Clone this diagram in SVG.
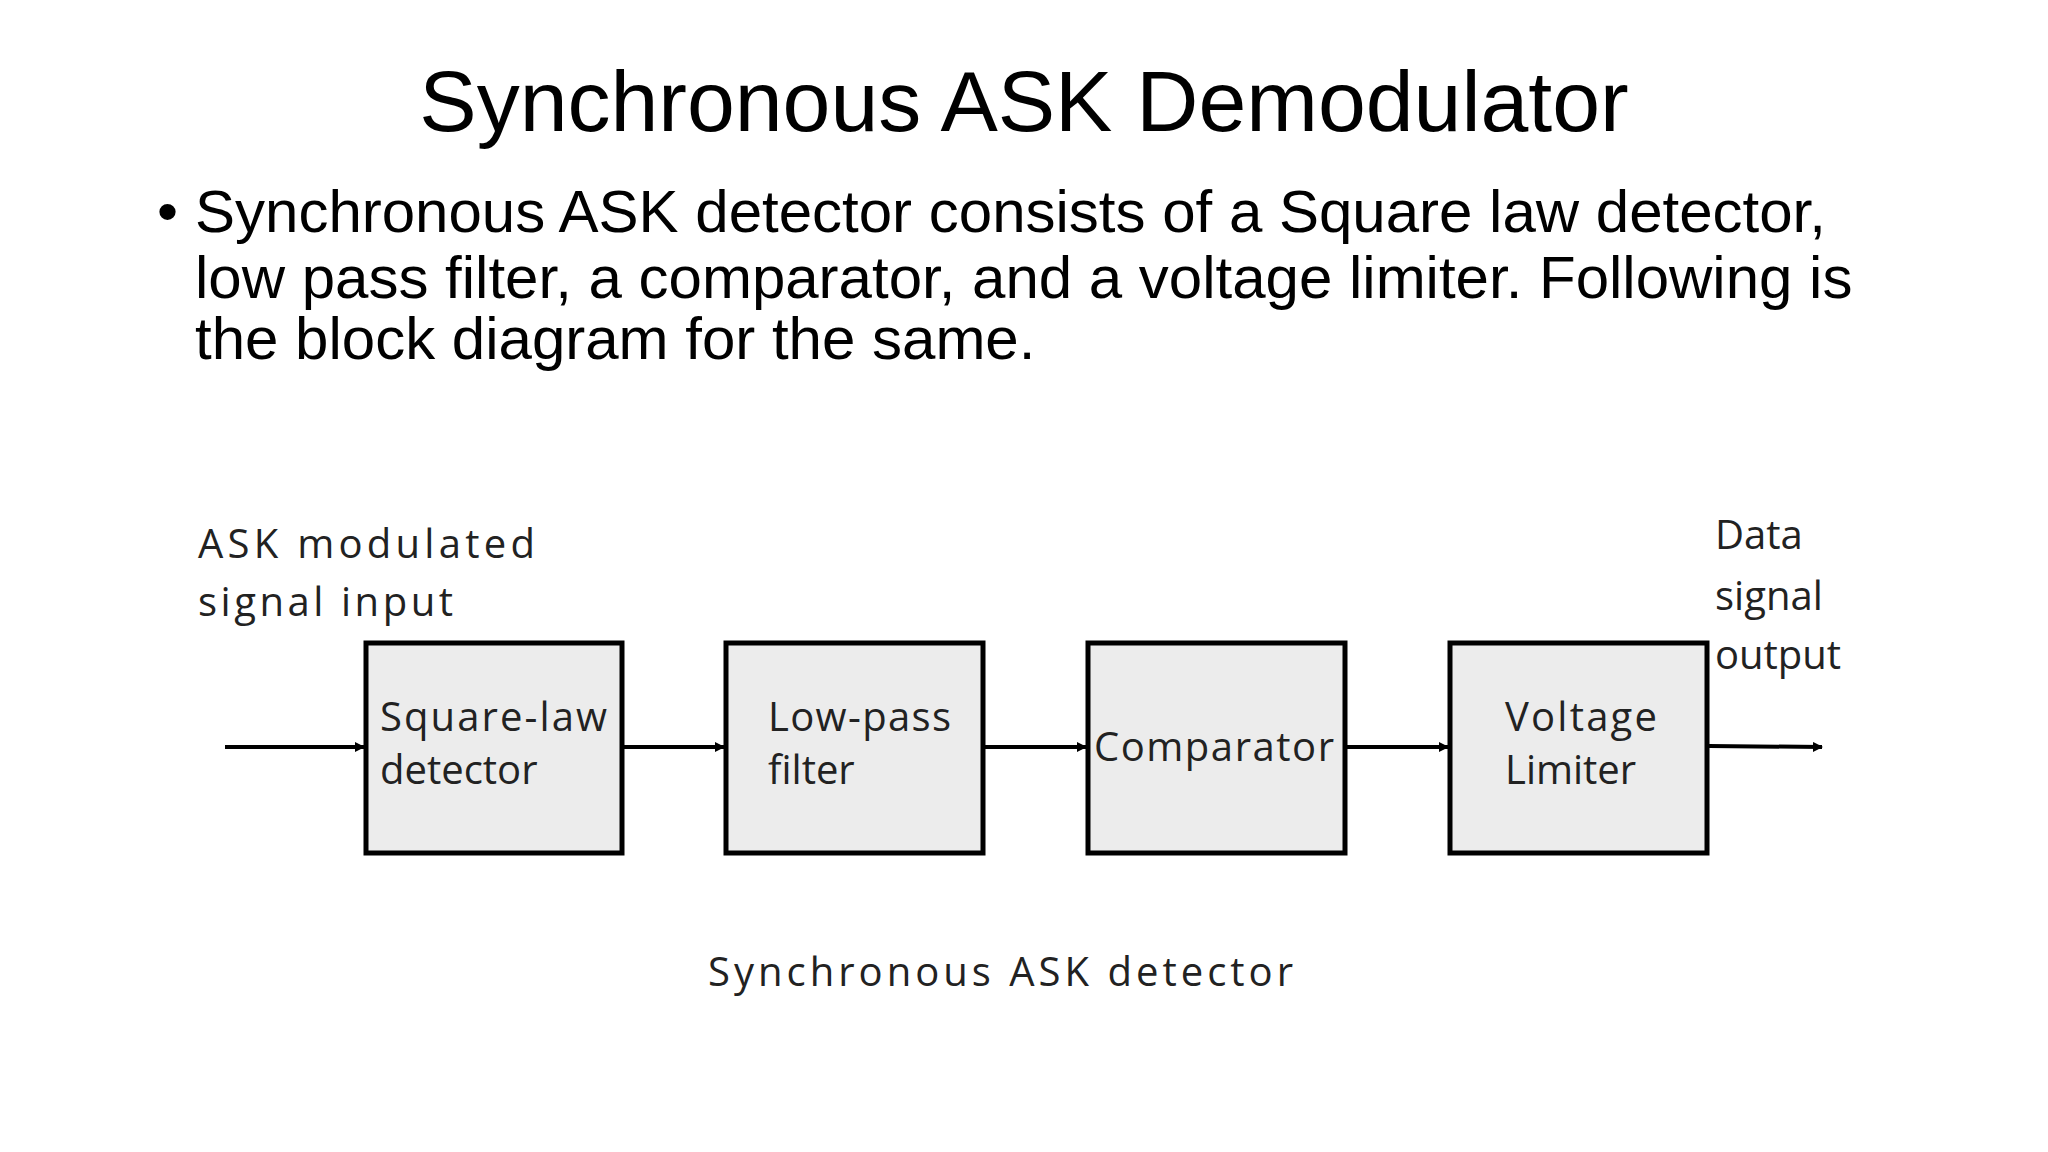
<svg xmlns="http://www.w3.org/2000/svg" width="2048" height="1152" viewBox="0 0 2048 1152">
<style>
.h{font-family:"Liberation Sans",Arial,sans-serif;fill:#000}
.d{font-family:"Open Sans","Noto Sans",sans-serif;font-size:40px;fill:#222}
.b{fill:#ececec;stroke:#000;stroke-width:5}
.c{stroke:#000;stroke-width:4;fill:none}
</style>
<defs><marker id="a" markerWidth="10" markerHeight="10" refX="9" refY="5" orient="auto" markerUnits="userSpaceOnUse" viewBox="0 0 10 10"><path d="M0,0 L10,5 L0,10 z" fill="#000"/></marker></defs>
<rect width="2048" height="1152" fill="#fff"/>
<text class="h" x="1024" y="131" font-size="86" text-anchor="middle">Synchronous ASK Demodulator</text>
<g class="h" font-size="60">
<text x="157" y="232">•</text>
<text x="195" y="232">Synchronous ASK detector consists of a Square law detector,</text>
<text x="195" y="298">low pass filter, a comparator, and a voltage limiter. Following is</text>
<text x="195" y="359">the block diagram for the same.</text>
</g>
<g id="connectors">
<line class="c" x1="225" y1="747" x2="364" y2="747" marker-end="url(#a)"/>
<line class="c" x1="624" y1="747" x2="724" y2="747" marker-end="url(#a)"/>
<line class="c" x1="985" y1="747" x2="1086" y2="747" marker-end="url(#a)"/>
<line class="c" x1="1347" y1="747" x2="1448" y2="747" marker-end="url(#a)"/>
<line class="c" x1="1709" y1="746" x2="1822" y2="747" marker-end="url(#a)"/>
</g>
<g id="in"><text class="d" x="198" y="558" textLength="337">ASK modulated</text><text class="d" x="198" y="616" textLength="255">signal input</text></g>
<g id="out"><text class="d" x="1715" y="549">Data</text><text class="d" x="1715" y="610">signal</text><text class="d" x="1715" y="669">output</text></g>
<g id="n1"><rect class="b" x="366" y="643" width="256" height="210"/><text class="d" x="380" y="731" textLength="227">Square-law</text><text class="d" x="380" y="784">detector</text></g>
<g id="n2"><rect class="b" x="726" y="643" width="257" height="210"/><text class="d" x="768" y="731" textLength="183">Low-pass</text><text class="d" x="768" y="784">filter</text></g>
<g id="n3"><rect class="b" x="1088" y="643" width="257" height="210"/><text class="d" x="1094" y="761" textLength="240">Comparator</text></g>
<g id="n4"><rect class="b" x="1450" y="643" width="257" height="210"/><text class="d" x="1505" y="731" textLength="152">Voltage</text><text class="d" x="1505" y="784">Limiter</text></g>
<text class="d" x="708" y="986" textLength="585">Synchronous ASK detector</text>
</svg>
